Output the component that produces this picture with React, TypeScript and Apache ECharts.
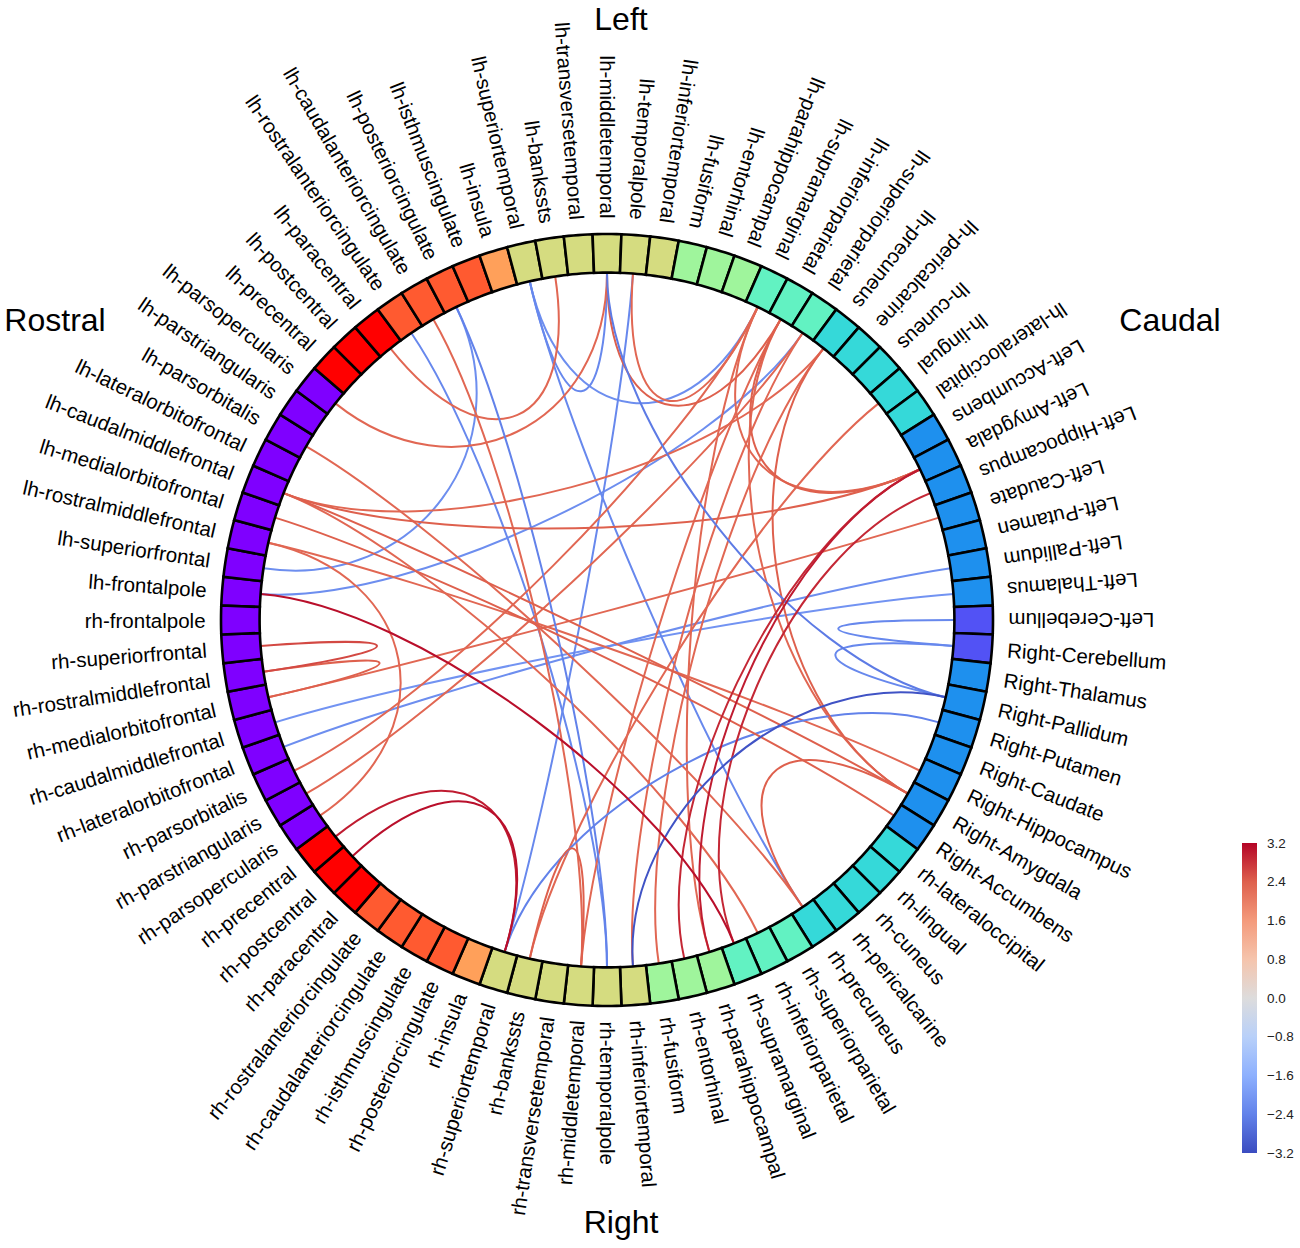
import React, { useEffect, useRef } from 'react';
import * as echarts from 'echarts';

// ---------------- data ----------------
const LH_CORTEX = [
  'frontalpole', 'superiorfrontal', 'rostralmiddlefrontal', 'medialorbitofrontal', 'caudalmiddlefrontal',
  'lateralorbitofrontal', 'parsorbitalis', 'parstriangularis', 'parsopercularis', 'precentral', 'postcentral',
  'paracentral', 'rostralanteriorcingulate', 'caudalanteriorcingulate', 'posteriorcingulate', 'isthmuscingulate',
  'insula', 'superiortemporal', 'bankssts', 'transversetemporal', 'middletemporal', 'temporalpole',
  'inferiortemporal', 'fusiform', 'entorhinal', 'parahippocampal', 'supramarginal', 'inferiorparietal',
  'superiorparietal', 'precuneus', 'pericalcarine', 'cuneus', 'lingual', 'lateraloccipital',
];
const LEFT_SUB = ['Left-Accumbens', 'Left-Amygdala', 'Left-Hippocampus', 'Left-Caudate', 'Left-Putamen', 'Left-Pallidum', 'Left-Thalamus', 'Left-Cerebellum'];
const RIGHT_SUB = ['Right-Cerebellum', 'Right-Thalamus', 'Right-Pallidum', 'Right-Putamen', 'Right-Caudate', 'Right-Hippocampus', 'Right-Amygdala', 'Right-Accumbens'];
const RH_CORTEX = [
  'lateraloccipital', 'lingual', 'cuneus', 'pericalcarine', 'precuneus', 'superiorparietal', 'inferiorparietal',
  'supramarginal', 'parahippocampal', 'entorhinal', 'fusiform', 'inferiortemporal', 'temporalpole',
  'middletemporal', 'transversetemporal', 'bankssts', 'superiortemporal', 'insula', 'posteriorcingulate',
  'isthmuscingulate', 'caudalanteriorcingulate', 'rostralanteriorcingulate', 'paracentral', 'postcentral',
  'precentral', 'parsopercularis', 'parstriangularis', 'parsorbitalis', 'lateralorbitofrontal',
  'caudalmiddlefrontal', 'medialorbitofrontal', 'rostralmiddlefrontal', 'superiorfrontal', 'frontalpole',
];

const FRONTAL = ['frontalpole', 'superiorfrontal', 'rostralmiddlefrontal', 'medialorbitofrontal', 'caudalmiddlefrontal', 'lateralorbitofrontal', 'parsorbitalis', 'parstriangularis', 'parsopercularis'];
const SENSORIMOTOR = ['precentral', 'postcentral', 'paracentral'];
const CINGULATE = ['rostralanteriorcingulate', 'caudalanteriorcingulate', 'posteriorcingulate', 'isthmuscingulate'];
const INSULA = ['insula'];
const TEMPORAL = ['superiortemporal', 'bankssts', 'transversetemporal', 'middletemporal', 'temporalpole', 'inferiortemporal'];
const MEDIAL_TEMPORAL = ['fusiform', 'entorhinal', 'parahippocampal'];
const PARIETAL = ['supramarginal', 'inferiorparietal', 'superiorparietal'];
const OCCIPITAL = ['precuneus', 'pericalcarine', 'cuneus', 'lingual', 'lateraloccipital'];
const SUBCORTICAL = ['Accumbens', 'Amygdala', 'Hippocampus', 'Caudate', 'Putamen', 'Pallidum', 'Thalamus'];
const CEREBELLUM = ['Cerebellum'];

const GROUPS: [string[], string][] = [
  [FRONTAL, '#7f00ff'],
  [SENSORIMOTOR, '#ff0000'],
  [CINGULATE, '#ff5a30'],
  [INSULA, '#ffa05a'],
  [TEMPORAL, '#d5dc80'],
  [MEDIAL_TEMPORAL, '#9ff59c'],
  [PARIETAL, '#62f2c2'],
  [OCCIPITAL, '#35d9d9'],
  [SUBCORTICAL, '#1e90ee'],
  [CEREBELLUM, '#5252f5'],
];

// connections: [node A, node B, value]
const EDGES: [string, string, number][] = [
  // negative
  ['lh-rostralanteriorcingulate', 'rh-temporalpole', -2.3],
  ['lh-posteriorcingulate', 'rh-temporalpole', -2.4],
  ['lh-superiorfrontal', 'lh-posteriorcingulate', -2.2],
  ['lh-superiortemporal', 'lh-middletemporal', -2.3],
  ['lh-superiortemporal', 'lh-supramarginal', -2.2],
  ['lh-temporalpole', 'rh-superiortemporal', -2.3],
  ['lh-middletemporal', 'Right-Pallidum', -2.5],
  ['lh-frontalpole', 'lh-superiorparietal', -2.2],
  ['rh-lateralorbitofrontal', 'Left-Pallidum', -2.2],
  ['rh-caudalmiddlefrontal', 'Left-Thalamus', -2.1],
  ['Left-Cerebellum', 'Right-Cerebellum', -2.3],
  ['Right-Cerebellum', 'Right-Pallidum', -2.3],
  ['rh-superiortemporal', 'Right-Putamen', -2.4],
  ['lh-superiortemporal', 'rh-precuneus', -2.3],
  ['rh-inferiortemporal', 'Right-Pallidum', -3.1],
  // strong positive
  ['lh-frontalpole', 'rh-supramarginal', 3.1],
  ['rh-postcentral', 'rh-superiortemporal', 3.1],
  ['rh-precentral', 'rh-superiortemporal', 3.0],
  ['Left-Amygdala', 'rh-parahippocampal', 3.0],
  ['Left-Hippocampus', 'rh-supramarginal', 2.9],
  ['Left-Amygdala', 'rh-entorhinal', 2.9],
  // positive
  ['lh-caudalmiddlefrontal', 'Left-Amygdala', 2.4],
  ['lh-caudalmiddlefrontal', 'Right-Amygdala', 2.4],
  ['lh-rostralmiddlefrontal', 'Right-Hippocampus', 2.3],
  ['lh-caudalmiddlefrontal', 'lh-precuneus', 2.3],
  ['lh-caudalmiddlefrontal', 'rh-inferiorparietal', 2.3],
  ['lh-medialorbitofrontal', 'Right-Accumbens', 2.4],
  ['lh-rostralmiddlefrontal', 'rh-parsopercularis', 2.3],
  ['lh-parsorbitalis', 'rh-precuneus', 2.3],
  ['lh-parsopercularis', 'lh-middletemporal', 2.3],
  ['lh-paracentral', 'lh-bankssts', 2.3],
  ['lh-caudalanteriorcingulate', 'rh-middletemporal', 2.3],
  ['lh-middletemporal', 'lh-inferiorparietal', 2.4],
  ['lh-temporalpole', 'lh-supramarginal', 2.3],
  ['lh-supramarginal', 'rh-parsorbitalis', 2.3],
  ['lh-supramarginal', 'rh-parahippocampal', 2.3],
  ['lh-superiorparietal', 'rh-parstriangularis', 2.3],
  ['lh-inferiorparietal', 'rh-middletemporal', 2.3],
  ['lh-precuneus', 'rh-fusiform', 2.3],
  ['lh-superiorparietal', 'rh-inferiortemporal', 2.3],
  ['lh-lingual', 'rh-bankssts', 2.3],
  ['Left-Amygdala', 'lh-inferiorparietal', 2.4],
  ['Left-Amygdala', 'lh-supramarginal', 2.3],
  ['Left-Caudate', 'rh-medialorbitofrontal', 2.3],
  ['Right-Amygdala', 'rh-precuneus', 2.4],
  ['rh-bankssts', 'rh-middletemporal', 2.4],
  ['rh-superiorfrontal', 'rh-rostralmiddlefrontal', 2.6],
  ['rh-rostralmiddlefrontal', 'rh-medialorbitofrontal', 2.4],
  ['lh-precuneus', 'Right-Amygdala', 2.4],
  ['lh-inferiorparietal', 'Right-Amygdala', 2.3],
];

const COLORBAR_MIN = -3.2;
const COLORBAR_MAX = 3.2;
const COLORBAR_STEP = 0.8;
const COOLWARM = ['#3b4cc0', '#6282ea', '#8db0fe', '#b8d0f9', '#dddcdc', '#f5c4ac', '#f49a7b', '#de604d', '#b40426'];

const TITLES = [
  { text: 'Left', x: 621, y: 19 },
  { text: 'Right', x: 621, y: 1222 },
  { text: 'Rostral', x: 55, y: 320 },
  { text: 'Caudal', x: 1170, y: 320 },
];

// ---------------- helpers ----------------
const NODE_NAMES = [
  ...LH_CORTEX.map((n) => 'lh-' + n),
  ...LEFT_SUB,
  ...RIGHT_SUB,
  ...RH_CORTEX.map((n) => 'rh-' + n),
];
const N = NODE_NAMES.length;
const STEP = 360 / N;

function nodeAngle(k: number): number {
  const a = 180 - ((k + 1) * 360) / N;
  return ((a % 360) + 360) % 360;
}
function regionOf(name: string): string {
  if (name.startsWith('lh-') || name.startsWith('rh-')) return name.slice(3);
  return name.replace(/^(Left|Right)-/, '');
}
function nodeColor(name: string): string {
  const r = regionOf(name);
  for (const [list, c] of GROUPS) if (list.indexOf(r) >= 0) return c;
  return '#cccccc';
}
const FONT = '"Liberation Sans", Arial, Helvetica, sans-serif';

const R_OUT = 10;
const R_IN = 9;
const R_CTRL = 5;
const R_LABEL = 10.4;

export default function App() {
  const ref = useRef<HTMLDivElement>(null);
  useEffect(() => {
    if (!ref.current) return;
    const chart = echarts.init(ref.current, undefined, { renderer: 'svg' });

    const ringData = NODE_NAMES.map((n, k) => [R_OUT, nodeAngle(k), k]);
    const labelData = NODE_NAMES.map((n, k) => [R_LABEL, nodeAngle(k), k]);
    const edgeData = EDGES.slice()
      .sort((a, b) => Math.abs(a[2]) - Math.abs(b[2]))
      .map(([a, b, v]) => [R_IN, nodeAngle(NODE_NAMES.indexOf(a)), nodeAngle(NODE_NAMES.indexOf(b)), v]);

    const option: any = {
      animation: false,
      backgroundColor: '#ffffff',
      polar: { center: [607, 620], radius: 386 },
      angleAxis: {
        type: 'value', min: 0, max: 360, startAngle: 0, clockwise: false, show: false,
        axisLine: { show: false }, axisTick: { show: false }, axisLabel: { show: false }, splitLine: { show: false },
      },
      radiusAxis: {
        type: 'value', min: 0, max: R_OUT, show: false,
        axisLine: { show: false }, axisTick: { show: false }, axisLabel: { show: false }, splitLine: { show: false },
      },
      grid: { left: 1242, top: 843, width: 15, height: 310 },
      xAxis: { type: 'value', min: 0, max: 1, show: false },
      yAxis: {
        type: 'value', min: COLORBAR_MIN, max: COLORBAR_MAX, interval: COLORBAR_STEP, position: 'right',
        axisLine: { show: false }, axisTick: { show: false }, splitLine: { show: false },
        axisLabel: {
          margin: 10, fontSize: 13.5, color: '#222', fontFamily: FONT,
          formatter: (v: number) => (v < -1e-9 ? '\u2212' : '') + Math.abs(v).toFixed(1),
        },
      },
      visualMap: {
        type: 'continuous', show: false, min: COLORBAR_MIN, max: COLORBAR_MAX, dimension: 3, seriesIndex: 0,
        inRange: { color: COOLWARM },
      },
      graphic: TITLES.map((t) => ({
        type: 'text', x: t.x, y: t.y,
        style: { text: t.text, fontSize: 32, fontFamily: FONT, fill: '#000', align: 'center', verticalAlign: 'middle' },
      })),
      series: [
        {
          type: 'custom', coordinateSystem: 'polar', z: 2,
          encode: { radius: 0, angle: 1 },
          data: edgeData,
          renderItem: (params: any, api: any) => {
            const a0 = api.value(1), a1 = api.value(2);
            const p0 = api.coord([R_IN, a0]);
            const c0 = api.coord([R_CTRL, a0]);
            const c1 = api.coord([R_CTRL, a1]);
            const p1 = api.coord([R_IN, a1]);
            return {
              type: 'bezierCurve',
              shape: { x1: p0[0], y1: p0[1], cpx1: c0[0], cpy1: c0[1], cpx2: c1[0], cpy2: c1[1], x2: p1[0], y2: p1[1] },
              style: { stroke: api.visual('color'), lineWidth: 2, fill: null },
            };
          },
        },
        {
          type: 'custom', coordinateSystem: 'polar', z: 3,
          encode: { radius: 0, angle: 1 },
          data: ringData,
          renderItem: (params: any, api: any) => {
            const a = api.value(1);
            const k = api.value(2);
            const h = STEP / 2;
            const pts: number[][] = [];
            for (let i = 0; i <= 6; i++) pts.push(api.coord([R_OUT, a - h + (i * STEP) / 6]));
            for (let i = 6; i >= 0; i--) pts.push(api.coord([R_IN, a - h + (i * STEP) / 6]));
            return {
              type: 'polygon', shape: { points: pts },
              style: { fill: nodeColor(NODE_NAMES[k]), stroke: '#000', lineWidth: 2.6, lineJoin: 'miter' },
            };
          },
        },
        {
          type: 'custom', coordinateSystem: 'polar', z: 4,
          encode: { radius: 0, angle: 1 },
          data: labelData,
          renderItem: (params: any, api: any) => {
            const a = api.value(1);
            const k = api.value(2);
            const p = api.coord([R_LABEL, a]);
            const flip = a < 270;
            const rot = ((flip ? a + 180 : a) * Math.PI) / 180;
            return {
              type: 'text', x: p[0], y: p[1], rotation: rot,
              style: {
                text: NODE_NAMES[k], fill: '#000', fontSize: 20.5, fontFamily: FONT,
                align: flip ? 'right' : 'left', verticalAlign: 'middle',
              },
            };
          },
        },
        {
          type: 'custom', coordinateSystem: 'cartesian2d', z: 2,
          data: [[0, COLORBAR_MAX, 1, COLORBAR_MIN]],
          renderItem: (params: any, api: any) => {
            const p0 = api.coord([api.value(0), api.value(1)]);
            const p1 = api.coord([api.value(2), api.value(3)]);
            const stops = COOLWARM.slice().reverse().map((c, i) => ({ offset: i / (COOLWARM.length - 1), color: c }));
            return {
              type: 'rect',
              shape: { x: p0[0], y: p0[1], width: p1[0] - p0[0], height: p1[1] - p0[1] },
              style: { fill: { type: 'linear', x: 0, y: 0, x2: 0, y2: 1, colorStops: stops } },
            };
          },
        },
      ],
    };
    chart.setOption(option);
    return () => chart.dispose();
  }, []);
  return <div ref={ref} style={{ position: 'absolute', left: 0, top: 0, width: 1300, height: 1248 }} />;
}
